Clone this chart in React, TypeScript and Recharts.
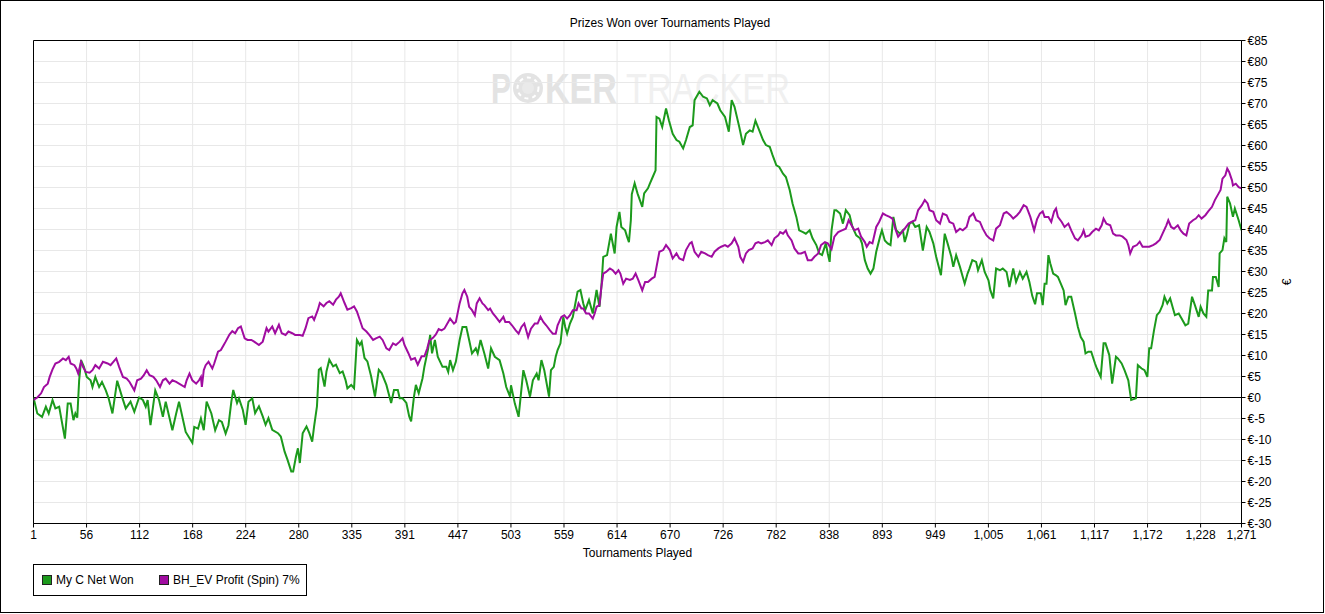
import React from "react";
import {
  LineChart,
  Line,
  XAxis,
  YAxis,
  CartesianGrid,
  ReferenceLine,
  ReferenceArea,
} from "recharts";

// ---------- DATA ----------
const chartTitle = "Prizes Won over Tournaments Played";
const xAxisTitle = "Tournaments Played";
const yAxisTitle = "€";
const seriesNames = ["My C Net Won", "BH_EV Profit (Spin) 7%"];
const seriesColors = ["#1c9a1c", "#a00ca0"];

const xTickLabels = [
  1, 56, 112, 168, 224, 280, 335, 391, 447, 503, 559, 614, 670, 726, 782, 838,
  893, 949, 1005, 1061, 1117, 1172, 1228, 1271,
];
const yTicks = [
  -30, -25, -20, -15, -10, -5, 0, 5, 10, 15, 20, 25, 30, 35, 40, 45, 50, 55,
  60, 65, 70, 75, 80, 85,
];

// [tournament, euros]
const myCNetWon: [number, number][] = [
  [1,0],[5,-3.8],[10,-4.6],[14,-2.2],[17,-3.8],[21,-0.6],[24,-2.6],[28,-2.2],[34,-9.8],[37,-1.4],[40,-1.4],[43,-5.4],[45,-3.8],[47,-4.8],[49,4.1],[51,8.9],[54,7.3],[57,4.9],[61,4.1],[63,2.5],[66,4.9],[70,2.5],[73,3.7],[77,1.7],[80,-0.2],[84,-3.8],[89,4],[94,0.2],[98,-2.6],[103,-1],[107,-3.4],[112,0],[116,-0.6],[119,-2.2],[121,-0.6],[124,-6.6],[129,1.7],[133,-0.6],[137,-4.6],[140,-1],[147,-7.8],[151,-3.8],[154,-1],[161,-8.2],[168,-10.8],[170,-7],[174,-7.4],[177,-5],[180,-7.8],[183,-1],[188,-3.8],[192,-7.8],[196,-5.4],[199,-5.8],[203,-8.6],[206,-6.6],[209,-1],[211,1.8],[215,-1.3],[217,-0.2],[221,-2.9],[224,-6.5],[227,-1],[231,-0.2],[234,-3.7],[238,-2.1],[242,-4.5],[245,-6.5],[248,-4.9],[252,-7.7],[258,-8.5],[261,-9.3],[265,-12.9],[268,-14.8],[272,-17.6],[274,-17.6],[277,-14],[279,-12.1],[281,-15.6],[284,-8.5],[288,-6.9],[291,-8.5],[294,-10.5],[296,-6.9],[299,-2.1],[301,6.6],[303,7],[307,2.6],[309,6.2],[312,9],[316,7.4],[319,7.8],[323,5.8],[326,6.2],[329,4.2],[331,2.2],[335,3],[338,2.2],[341,13.7],[344,12.5],[346,13.3],[349,9.4],[352,8.6],[356,5],[360,0.2],[364,6.6],[367,5.8],[372,3],[377,-1.3],[380,1.8],[384,1.8],[386,-0.2],[389,-0.2],[393,-1.3],[396,-4.5],[398,-5.7],[401,0.2],[403,3],[406,1],[410,4.6],[412,7.4],[416,11.7],[418,14.9],[420,10.5],[423,13.7],[426,9.7],[431,7.3],[435,7.3],[437,6.1],[439,8.9],[442,6.5],[445,8.5],[449,13.7],[452,16.8],[456,16.8],[459,13.7],[462,10.5],[466,11.7],[468,10.5],[471,13.7],[475,10.5],[479,6.9],[482,11.7],[486,9.7],[491,8.9],[495,5.7],[498,2.5],[502,0.2],[503,2.9],[507,-1.4],[511,-4.6],[516,6.5],[519,4.1],[523,0.2],[526,4.1],[530,5.7],[532,4.1],[535,8.9],[538,6.5],[543,0.2],[545,6.5],[548,7.3],[550,9.7],[552,11.3],[555,12.9],[558,19.2],[560,16.8],[562,15.2],[565,17.6],[568,19.2],[570,21.6],[573,25.2],[576,25.6],[579,22.4],[581,20.8],[585,23.2],[589,20],[593,25.6],[596,21.6],[598,26.3],[600,33.5],[604,33.9],[608,39],[612,34.3],[614,40.6],[617,44.2],[619,40.6],[623,39.8],[625,38.3],[627,37],[629,42.2],[630,48.4],[633,51],[636,48.6],[641,45.4],[643,48.6],[647,49.8],[649,50.9],[652,52.5],[655,54.1],[656,66.8],[659,66.4],[662,64.4],[666,68.8],[669,66],[673,62.8],[677,61.3],[680,60.9],[684,59.3],[687,61.3],[691,64.4],[694,64.8],[696,70.8],[701,72.8],[705,71.6],[709,71.2],[712,69.6],[715,70.8],[720,70],[723,68.4],[728,66.8],[732,63.3],[735,70.8],[738,69.2],[743,64.4],[747,60.1],[750,62.8],[754,63.6],[757,63.3],[760,65.9],[764,63.6],[768,61.3],[771,60.1],[775,59.7],[778,57.7],[782,55.3],[785,54.9],[789,53.3],[792,52.5],[796,49.4],[799,46.2],[803,43],[806,39.8],[810,39.4],[813,39],[817,39.8],[820,37.9],[824,36.3],[827,34.3],[830,33.9],[834,36.7],[836,34.3],[838,32.3],[840,39.8],[843,44.6],[845,44.6],[849,43.8],[852,41.4],[855,44.6],[859,43.4],[862,40.6],[866,38.6],[870,37.9],[872,36.7],[875,32.7],[878,30.7],[881,29.5],[884,30.7],[887,34.7],[891,38.3],[893,39.8],[896,37.4],[899,36.7],[902,36.3],[905,43],[908,39.8],[912,39],[915,39.8],[917,37],[919,38.6],[922,41.4],[925,41.8],[928,40.6],[932,41],[936,35],[940,40.6],[943,39.4],[947,36.7],[950,33.5],[955,29.1],[959,39],[962,36.7],[966,33.5],[968,31.1],[971,33.9],[975,31.1],[978,28.7],[980,27.1],[983,29.5],[985,30.7],[988,32.7],[992,32.3],[994,30.3],[998,32.7],[1001,29.9],[1005,27.9],[1007,25.5],[1010,23.6],[1013,30.7],[1017,30.3],[1020,30.7],[1024,29.9],[1027,26.3],[1031,30.7],[1034,27.5],[1038,29.9],[1041,28.3],[1045,29.9],[1048,27.5],[1051,24.2],[1054,22.2],[1056,24.8],[1060,24.8],[1062,22],[1064,27.1],[1066,27.1],[1068,33.9],[1070,31.9],[1073,29.5],[1076,29.1],[1078,28.7],[1081,27.1],[1084,25.5],[1086,22],[1089,24],[1092,24],[1096,20],[1099,16.8],[1102,14.4],[1105,13.3],[1107,10.5],[1110,10.9],[1113,10.9],[1117,8.1],[1119,6.9],[1123,4.9],[1126,12.9],[1128,12.9],[1132,10.1],[1135,3.3],[1139,9.7],[1141,9.3],[1145,8.1],[1148,6.5],[1152,4.1],[1155,-0.6],[1160,-0.2],[1162,7.7],[1166,6.9],[1169,6.5],[1172,4.9],[1174,11.7],[1176,11.7],[1179,16],[1182,19.6],[1185,20.4],[1188,22],[1190,24],[1193,22.4],[1196,23.6],[1199,21.2],[1201,19.6],[1205,20],[1208,18.8],[1212,17.2],[1215,17.6],[1219,24],[1222,22],[1226,19.2],[1228,21.6],[1231,20],[1234,19.2],[1236,25.5],[1240,25.5],[1241,28.7],[1244,28.7],[1247,26.3],[1248,34.3],[1251,35.1],[1253,37.9],[1255,37],[1256,47.8],[1259,46.2],[1262,43],[1264,45],[1268,42.2],[1271,39.8],
];

const bhEvProfit: [number, number][] = [
  [1,-0.6],[5,0],[9,1],[12,2.5],[16,3.3],[18,4.9],[21,6.7],[24,8.1],[28,8.5],[32,9.3],[35,8.9],[38,9.7],[40,8.1],[44,7.7],[46,6.9],[48,5.7],[51,8.5],[53,7.3],[56,6.1],[60,5.9],[63,6.5],[66,7.7],[70,6.9],[74,8.5],[79,8.1],[82,7.7],[88,9.3],[91,7.3],[95,4.9],[99,4.5],[102,3.7],[107,1.7],[110,4.1],[114,4.5],[117,5.3],[120,6.5],[123,5.3],[127,4.9],[130,4.1],[134,2.5],[137,4.1],[140,4.5],[144,3.3],[147,4.1],[151,3.7],[154,3.3],[160,2.5],[162,4.1],[165,5.7],[168,4.1],[172,3.3],[175,4.1],[177,4.9],[178,2.5],[180,6.5],[182,7.7],[185,8.5],[189,6.9],[191,8.1],[195,10.9],[198,11.3],[201,12.5],[203,13.3],[207,15],[210,15.8],[213,15.3],[216,16.5],[219,16.9],[223,14.1],[226,13.7],[230,13.7],[233,13.3],[238,12.5],[242,13.3],[246,16.5],[248,15.7],[252,16.9],[255,15.3],[259,17.3],[262,15.3],[266,14.9],[269,15.7],[273,15.3],[276,14.9],[281,14.9],[284,14.7],[287,16.5],[290,18.9],[294,19.3],[296,18.5],[300,20.9],[302,22.5],[306,21.7],[309,22.5],[312,22.9],[316,22.1],[319,23.3],[322,24],[324,24.8],[328,22.5],[331,20.9],[335,21.3],[338,21.7],[341,20.5],[344,18.5],[347,16.5],[351,15.7],[354,14.9],[358,13.7],[361,14.1],[365,14.5],[368,13.7],[372,11.7],[375,11.3],[379,12.9],[382,12.5],[386,13.3],[389,14.1],[391,12.5],[395,10.6],[398,9],[402,9.4],[405,7.8],[409,9.8],[412,9.8],[415,11.7],[417,13.5],[421,14.2],[424,15],[427,16.3],[430,16],[433,16.4],[437,18],[439,18.8],[443,17.6],[445,18],[449,22.4],[452,24.8],[454,25.6],[457,24],[459,21.6],[462,20.8],[465,19.6],[467,22.4],[470,23.6],[473,22.4],[475,22],[479,20.8],[481,21.2],[484,20],[487,19.2],[491,18],[495,19.2],[497,18],[501,18],[504,17.2],[508,16],[511,15.2],[514,16.8],[517,17.6],[521,14.4],[524,16.4],[528,17.6],[531,17.6],[534,19.2],[537,18],[540,17.2],[544,16],[547,15.2],[550,15.2],[552,17.2],[556,19.2],[559,19.6],[562,18.8],[565,19.6],[568,20.8],[572,20.8],[574,22.4],[577,21.2],[579,21.2],[582,20],[585,20],[589,18.8],[591,20],[593,21.6],[596,22],[598,26.3],[600,29.5],[603,29.9],[607,30.7],[610,30.3],[613,29.5],[616,30.3],[618,29.5],[621,27.1],[624,28.3],[628,28],[631,28.3],[634,29.5],[637,27.9],[639,26.7],[641,25.5],[644,27.5],[647,27.5],[651,28.3],[654,28.7],[656,31.1],[659,34.7],[663,35.1],[666,36.3],[670,35.1],[673,33.1],[677,34.3],[680,33.1],[684,32.7],[687,35.1],[691,36.7],[693,37],[696,34.7],[700,33.5],[703,34.7],[707,34.3],[710,33.9],[714,33.5],[717,34.7],[721,35.5],[724,35.9],[728,36.3],[731,35.9],[735,36.7],[738,37.9],[742,35.9],[744,33.5],[747,32.3],[750,34.3],[753,35.1],[757,35.5],[760,36.7],[763,37],[766,36.7],[770,37],[773,37.4],[777,36.3],[780,37.9],[784,38.6],[786,39.4],[789,39],[792,39.8],[794,38.6],[798,37.4],[801,35.5],[805,34.3],[808,34.3],[812,34.7],[815,32.7],[819,32.7],[822,33.5],[826,34.3],[829,36.3],[833,37],[836,36.7],[840,35.3],[843,38.3],[847,39.4],[851,39.8],[855,40.2],[858,42.2],[861,41],[864,39.8],[868,40.2],[871,38.3],[875,37],[877,35.9],[880,37],[883,36.7],[887,40.6],[890,41.8],[894,43.8],[897,43.4],[901,43],[904,42.6],[907,40.2],[910,38.3],[914,39.4],[917,40.2],[921,41.4],[924,41.8],[928,42.2],[931,44.6],[935,45.8],[938,47],[941,46.2],[943,44.6],[947,44.2],[950,42.2],[954,41.4],[957,43.8],[961,43.4],[964,41.8],[968,41.4],[971,39.4],[975,40.2],[978,39.8],[982,40.6],[985,43],[989,43.8],[992,42.2],[996,41.8],[999,40.2],[1003,38.6],[1006,37.9],[1010,37.4],[1013,40.2],[1017,41],[1021,43.8],[1024,44.2],[1028,43.4],[1031,42.6],[1035,43.4],[1038,44.2],[1042,45.8],[1045,45.4],[1049,43],[1053,39.8],[1056,42.4],[1059,43.8],[1062,44.3],[1064,43],[1068,43],[1071,41.8],[1074,44.3],[1076,45],[1078,43],[1082,41.8],[1085,40.6],[1089,41.4],[1092,39.8],[1096,37.9],[1099,37.4],[1103,38.6],[1105,39.8],[1107,38.3],[1111,38.6],[1114,39.4],[1118,40.2],[1121,39.8],[1124,41],[1126,42.6],[1129,41.4],[1133,41],[1136,39],[1139,38.6],[1143,38.6],[1146,38.3],[1150,37.5],[1152,36.3],[1154,34.3],[1157,35.9],[1161,36.3],[1164,37.1],[1167,35.9],[1171,35.9],[1174,35.9],[1178,36.3],[1181,36.7],[1185,37.5],[1188,39],[1192,41],[1194,42.2],[1197,40.6],[1200,40.2],[1204,41],[1207,39.8],[1210,39],[1213,38.6],[1216,41.4],[1220,42.2],[1223,42.6],[1226,43.4],[1229,42.6],[1233,43.4],[1236,44.3],[1240,45.4],[1243,47],[1247,48.6],[1249,49.4],[1251,52.1],[1254,52.9],[1256,54.5],[1258,53.7],[1261,51.7],[1262,50.5],[1265,50.9],[1268,50.1],[1271,49.8],
];

// ---------- BUILD ----------
const toRows = (pairs: [number, number][]) => pairs.map(([t, v]) => ({ t, v }));
const greenRows = toRows(myCNetWon);
const purpleRows = toRows(bhEvProfit);

const xFirst = xTickLabels[0];
const xLast = xTickLabels[xTickLabels.length - 1];
const step = (xTickLabels[xTickLabels.length - 2] - xFirst) / (xTickLabels.length - 2);
const xTickPositions = xTickLabels.map((lab, i) =>
  i === xTickLabels.length - 1 ? lab : xFirst + i * step
);
const fmtX = (v: number) => {
  const i = xTickPositions.findIndex((p) => Math.abs(p - v) < 0.001);
  const lab = i >= 0 ? xTickLabels[i] : Math.round(v);
  return lab.toLocaleString("en-US");
};
const fmtY = (v: number) => `€${v}`;

const FONT = '"Liberation Sans", Arial, sans-serif';
const W = 1325;
const H = 614;

export default function App() {
  return (
    <div
      style={{
        position: "absolute",
        left: 0,
        top: 0,
        width: W,
        height: H,
        background: "#fff",
        fontFamily: FONT,
        color: "#000",
        overflow: "hidden",
      }}
    >
      {/* outer frame */}
      <div
        style={{
          position: "absolute",
          left: 0,
          top: 0,
          width: 1324,
          height: 613,
          border: "1px solid #000",
          boxSizing: "border-box",
        }}
      />
      {/* watermark */}
      <svg
        width={W}
        height={H}
        style={{ position: "absolute", left: 0, top: 0 }}
      >
        <text
          x={491}
          y={103}
          fontSize={42}
          fontWeight="bold"
          fill="#e3e3e3"
          textLength={20}
          lengthAdjust="spacingAndGlyphs"
          fontFamily={FONT}
        >
          P
        </text>
        <circle cx={528} cy={88} r={15} fill="#e3e3e3" />
        <circle cx={528} cy={88} r={10.5} fill="none" stroke="#fff" strokeWidth={2} strokeDasharray="4 4" />
        <circle cx={528} cy={88} r={6} fill="#eaeaea" />
        <text
          x={545}
          y={103}
          fontSize={42}
          fontWeight="bold"
          fill="#e3e3e3"
          textLength={72}
          lengthAdjust="spacingAndGlyphs"
          fontFamily={FONT}
        >
          KER
        </text>
        <text
          x={626}
          y={103}
          fontSize={42}
          fill="#f0f0f0"
          textLength={164}
          lengthAdjust="spacingAndGlyphs"
          fontFamily={FONT}
        >
          TRACKER
        </text>
      </svg>

      <div style={{ position: "absolute", left: 0, top: 0 }}>
        <LineChart
          width={W}
          height={H}
          margin={{ top: 40.5, left: 33.5, right: 33.5, bottom: 60.5 }}
        >
          <CartesianGrid stroke="#e8e8e8" strokeWidth={1} />
          <XAxis
            type="number"
            dataKey="t"
            domain={[xFirst, xLast]}
            ticks={xTickPositions}
            interval={0}
            tickFormatter={fmtX}
            height={30}
            tickSize={4}
            tickMargin={3}
            tick={{ fontSize: 12, fill: "#000", fontFamily: FONT }}
            stroke="#000"
            allowDataOverflow
          />
          <YAxis
            type="number"
            orientation="right"
            domain={[-30, 85]}
            ticks={yTicks}
            interval={0}
            tickFormatter={fmtY}
            width={50}
            tickSize={4}
            tick={{ fontSize: 12, fill: "#000", fontFamily: FONT }}
            stroke="#000"
            allowDataOverflow
          />
          <ReferenceArea
            x1={xFirst}
            x2={xLast}
            y1={-30}
            y2={85}
            fill="#fff"
            fillOpacity={0}
            stroke="#000"
            strokeOpacity={1}
            strokeWidth={1}
          />
          <ReferenceLine y={0} stroke="#000" strokeWidth={1} />
          <Line
            data={greenRows}
            dataKey="v"
            type="linear"
            stroke={seriesColors[0]}
            strokeWidth={2}
            dot={false}
            isAnimationActive={false}
            name={seriesNames[0]}
          />
          <Line
            data={purpleRows}
            dataKey="v"
            type="linear"
            stroke={seriesColors[1]}
            strokeWidth={2}
            dot={false}
            isAnimationActive={false}
            name={seriesNames[1]}
          />
        </LineChart>
      </div>

      {/* title */}
      <div
        style={{
          position: "absolute",
          left: 470,
          width: 400,
          top: 15,
          lineHeight: "16px",
          fontSize: 12,
          textAlign: "center",
        }}
      >
        {chartTitle}
      </div>

      {/* x axis title */}
      <div
        style={{
          position: "absolute",
          left: 437.5,
          width: 400,
          top: 545,
          lineHeight: "16px",
          fontSize: 12,
          textAlign: "center",
        }}
      >
        {xAxisTitle}
      </div>

      {/* y axis title (rotated) */}
      <svg
        width={30}
        height={40}
        style={{ position: "absolute", left: 1272, top: 262 }}
      >
        <text
          x={0}
          y={0}
          transform="translate(19,20) rotate(-90)"
          textAnchor="middle"
          fontSize={12}
          fontFamily={FONT}
          fill="#000"
        >
          {yAxisTitle}
        </text>
      </svg>

      {/* legend */}
      <div
        style={{
          position: "absolute",
          left: 33,
          top: 564,
          width: 274,
          height: 32,
          border: "1px solid #000",
          boxSizing: "border-box",
          fontSize: 12,
        }}
      >
        {seriesNames.map((n, i) => (
          <div
            key={n}
            style={{
              position: "absolute",
              left: i === 0 ? 8 : 125,
              top: 0,
              height: 30,
              display: "flex",
              alignItems: "center",
              whiteSpace: "nowrap",
            }}
          >
            <span
              style={{
                display: "inline-block",
                width: 8,
                height: 8,
                background: seriesColors[i],
                border: "1px solid #222",
                marginRight: 4,
              }}
            />
            <span style={{ lineHeight: "14px" }}>{n}</span>
          </div>
        ))}
      </div>
    </div>
  );
}
